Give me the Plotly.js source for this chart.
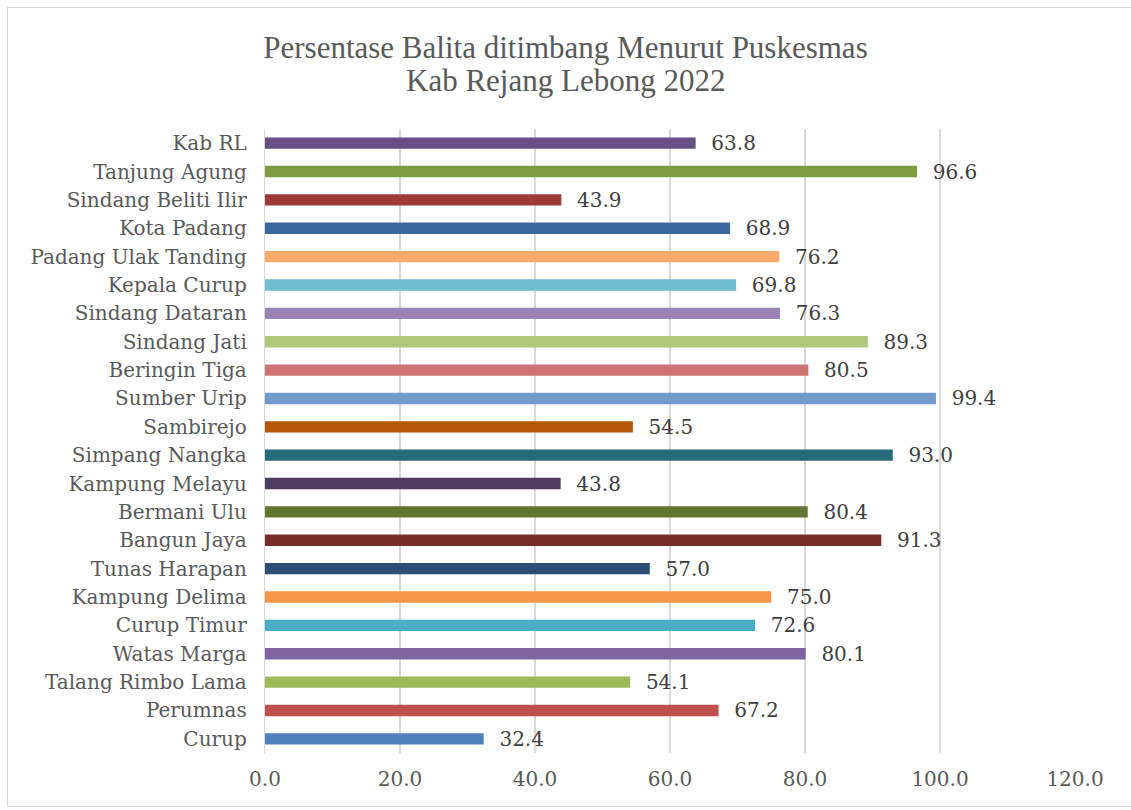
<!DOCTYPE html>
<html>
<head>
<meta charset="utf-8">
<script src="https://cdn.plot.ly/plotly-3.0.1.min.js"></script>
<style>
html,body{margin:0;padding:0;background:#fff;}
#frame{position:absolute;left:7px;top:7px;width:1140px;height:800px;border:1.5px solid #D9D9D9;box-sizing:border-box;pointer-events:none;}
#chart{position:absolute;left:0;top:0;width:1131px;height:810px;}
</style>
</head>
<body>
<div id="chart"></div>
<div id="frame"></div>
<script>
// Categories bottom to top
const categories = [
  "Curup","Perumnas","Talang Rimbo Lama","Watas Marga","Curup Timur","Kampung Delima",
  "Tunas Harapan","Bangun Jaya","Bermani Ulu","Kampung Melayu","Simpang Nangka","Sambirejo",
  "Sumber Urip","Beringin Tiga","Sindang Jati","Sindang Dataran","Kepala Curup",
  "Padang Ulak Tanding","Kota Padang","Sindang Beliti Ilir","Tanjung Agung","Kab RL"
];
const values = [
  32.4, 67.2, 54.1, 80.1, 72.6, 75.0,
  57.0, 91.3, 80.4, 43.8, 93.0, 54.5,
  99.4, 80.5, 89.3, 76.3, 69.8,
  76.2, 68.9, 43.9, 96.6, 63.8
];
const barColors = [
  "#4F81BD","#C0504D","#9BBB59","#8064A2","#4BACC6","#F79646",
  "#2C4D75","#772C2A","#5F7530","#4D3B62","#276A7C","#B65708",
  "#729ACA","#CD7371","#AFC97A","#9983B5","#6FBDD1",
  "#F9AB6B","#3A679C","#9E3B38","#7E9D40","#664F85"
];
const xTickVals = [0,20,40,60,80,100,120];
const xTickText = ["0.0","20.0","40.0","60.0","80.0","100.0","120.0"];
const titleLine1 = "Persentase Balita ditimbang Menurut Puskesmas";
const titleLine2 = "Kab Rejang Lebong 2022";

const labelFont = "DejaVu Serif, serif";
const titleFont = {family: "Liberation Serif, serif", size: 31, color: "#595959"};

const trace = {
  type: "bar",
  orientation: "h",
  y: categories,
  x: values,
  marker: {color: barColors},
  width: 0.4,
  text: values.map(v => "\u00a0\u00a0" + v.toFixed(1)),
  textposition: "outside",
  constraintext: "none",
  cliponaxis: false,
  textfont: {family: labelFont, size: 20, color: "#404040"},
  hoverinfo: "x+y"
};

const layout = {
  width: 1131,
  height: 810,
  margin: {l: 265, r: 56, t: 129, b: 57},
  paper_bgcolor: "#ffffff",
  plot_bgcolor: "#ffffff",
  showlegend: false,
  title: {
    text: titleLine1,
    font: titleFont,
    x: 0.5, xanchor: "center",
    y: 1 - 47/810, yanchor: "middle"
  },
  annotations: [{
    text: titleLine2,
    font: titleFont,
    xref: "paper", yref: "paper",
    x: (565.5 - 265) / 810, xanchor: "center",
    y: (810 - 57 - 80) / 624, yanchor: "middle",
    showarrow: false
  }],
  xaxis: {
    range: [0, 120],
    tickvals: xTickVals,
    ticktext: xTickText,
    showgrid: true,
    gridcolor: "#D9D9D9",
    gridwidth: 1.5,
    zeroline: false,
    showline: false,
    ticks: "",
    ticklen: 0,
    ticklabelstandoff: 12,
    tickfont: {family: labelFont, size: 20, color: "#595959"},
    automargin: false
  },
  yaxis: {
    categoryorder: "array",
    categoryarray: categories,
    showgrid: false,
    zeroline: false,
    showline: true,
    linecolor: "#D9D9D9",
    linewidth: 1.5,
    ticks: "",
    ticksuffix: "  ",
    tickfont: {family: labelFont, size: 20, color: "#595959"},
    automargin: false
  },
  bargap: 0.6
};

Plotly.newPlot("chart", [trace], layout, {displayModeBar: false, staticPlot: true});
</script>
</body>
</html>
